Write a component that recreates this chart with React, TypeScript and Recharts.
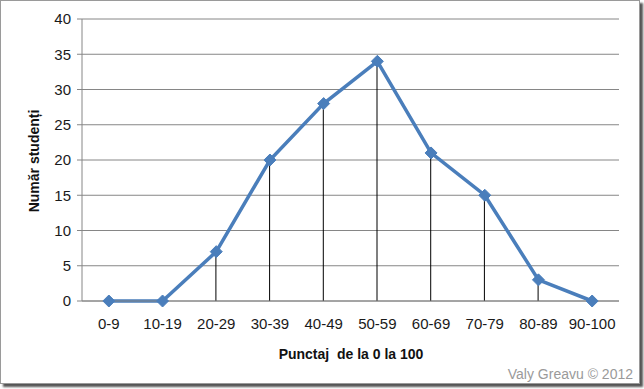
import React from 'react';
import { ComposedChart, Line, Bar, XAxis, YAxis, CartesianGrid } from 'recharts';

const categories = ['0-9', '10-19', '20-29', '30-39', '40-49', '50-59', '60-69', '70-79', '80-89', '90-100'];
const students = [0, 0, 7, 20, 28, 34, 21, 15, 3, 0];
const yTicks = [0, 5, 10, 15, 20, 25, 30, 35, 40];

const data = categories.map((name, i) => ({ name, students: students[i] }));

const LINE_BLUE = '#4a7ebb';
const GRID = '#868686';
const FONT = '"Liberation Sans", Arial, sans-serif';

const Diamond = (props: any) => {
  const { cx, cy } = props;
  if (cx == null || cy == null) return null;
  const r = 6;
  return (
    <polygon
      points={`${cx},${cy - r} ${cx + r},${cy} ${cx},${cy + r} ${cx - r},${cy}`}
      fill={LINE_BLUE}
      stroke={LINE_BLUE}
      strokeWidth={1}
    />
  );
};

export default function App() {
  return (
    <div style={{ position: 'absolute', left: 0, top: 0, width: 644, height: 389, background: '#fff' }}>
      <div
        style={{
          position: 'absolute',
          left: 0,
          top: 0,
          width: 638,
          height: 382,
          border: '1px solid #9a9a9a',
          boxShadow: '3px 3px 2px #555',
          background: '#fff',
          fontFamily: FONT,
        }}
      >
        <ComposedChart width={638} height={382} data={data} margin={{ top: 18, right: 20, bottom: 52, left: 21 }}>
          <CartesianGrid vertical={false} stroke={GRID} strokeWidth={1} />
          <XAxis
            dataKey="name"
            axisLine={{ stroke: GRID }}
            tickLine={false}
            tick={{ fill: '#1a1a1a', fontSize: 15, fontFamily: FONT }}
            tickMargin={11}
            height={30}
            interval={0}
          />
          <YAxis
            domain={[0, 40]}
            ticks={yTicks}
            width={60}
            axisLine={{ stroke: GRID }}
            tickLine={{ stroke: GRID }}
            tickSize={5}
            tickMargin={6}
            tick={{ fill: '#1a1a1a', fontSize: 15, fontFamily: FONT }}
          />
          <Bar dataKey="students" barSize={1} fill="#000" isAnimationActive={false} />
          <Line
            dataKey="students"
            stroke={LINE_BLUE}
            strokeWidth={3.5}
            dot={<Diamond />}
            activeDot={false}
            isAnimationActive={false}
          />
        </ComposedChart>
        <div
          style={{
            position: 'absolute',
            left: 33,
            top: 160,
            transform: 'translate(-50%, -50%) rotate(-90deg)',
            fontWeight: 'bold',
            fontSize: 14,
            whiteSpace: 'nowrap',
            color: '#111',
          }}
        >
          Număr studenți
        </div>
        <div
          style={{
            position: 'absolute',
            left: 350,
            top: 353,
            transform: 'translate(-50%, -50%)',
            fontWeight: 'bold',
            fontSize: 14,
            whiteSpace: 'pre',
            color: '#111',
          }}
        >
          Punctaj  de la 0 la 100
        </div>
        <div
          style={{
            position: 'absolute',
            right: 6,
            top: 365,
            fontSize: 14,
            color: '#9a9a9a',
            whiteSpace: 'nowrap',
          }}
        >
          Valy Greavu © 2012
        </div>
      </div>
    </div>
  );
}
